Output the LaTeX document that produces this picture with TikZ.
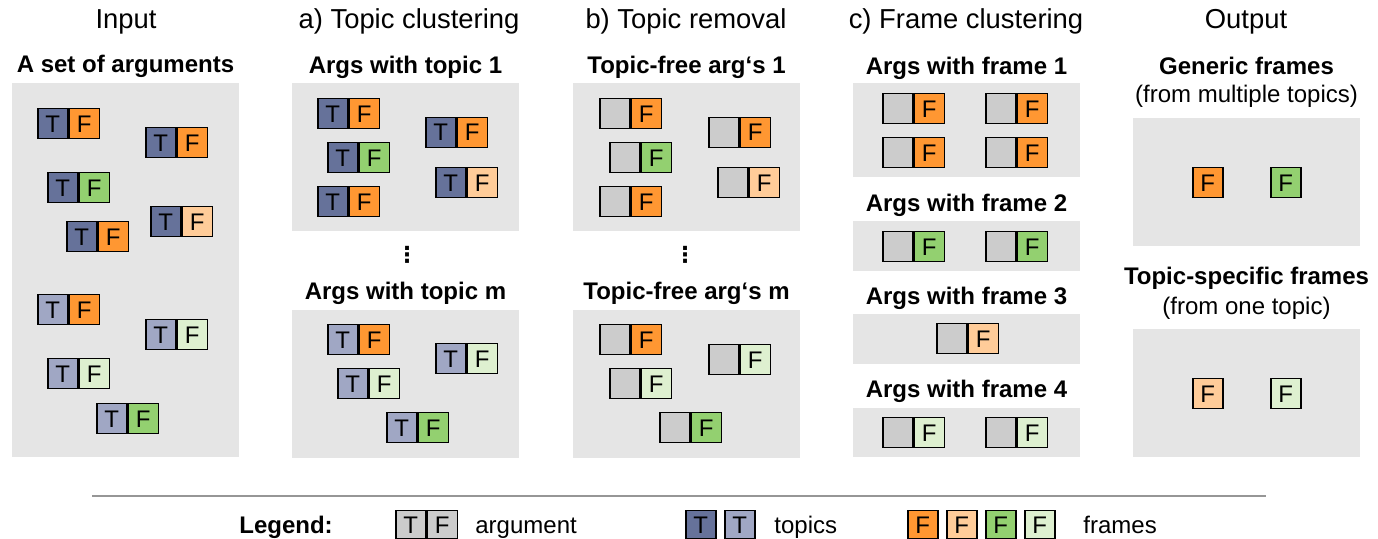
\documentclass[tikz,border=0pt]{standalone}
\usepackage{fontspec}
\setmainfont{Liberation Sans}
\newfontfamily\symfont{DejaVu Sans}
\definecolor{tdark}{RGB}{102,114,154}
\definecolor{tlight}{RGB}{160,167,196}
\definecolor{forange}{RGB}{255,151,50}
\definecolor{florange}{RGB}{255,204,153}
\definecolor{fgreen}{RGB}{147,208,112}
\definecolor{flgreen}{RGB}{222,240,208}
\definecolor{cgray}{RGB}{204,204,204}
\definecolor{panelgray}{RGB}{229,229,229}
\definecolor{rulegray}{RGB}{150,150,150}
% argument with topic cell T and frame cell F
\newcommand\tfarg[5]{%
  \node[cell,fill=#4] (#1t) at (#2,#3) {T};
  \node[cell,fill=#5] (#1f) at (#1t.north east) {F};}
% argument whose topic has been removed
\newcommand\xfarg[4]{%
  \node[cell,fill=cgray] (#1t) at (#2,#3) {};
  \node[cell,fill=#4] (#1f) at (#1t.north east) {F};}
\begin{document}
\begin{tikzpicture}[x=0.5pt,y=-0.5pt,
  cell/.style={draw=black, line width=0.75pt, minimum width=15pt, minimum height=15pt,
    inner sep=0pt, anchor=north west, font=\fontsize{12}{12}\selectfont},
  lcell/.style={cell, minimum height=14pt},
  panel/.style={fill=panelgray},
  heading/.style={anchor=base, inner sep=0pt, font=\fontsize{13.7}{14}\selectfont},
  subhead/.style={anchor=base, inner sep=0pt, font=\fontsize{12}{13}\selectfont\bfseries},
  note/.style={anchor=base, inner sep=0pt, font=\fontsize{12}{13}\selectfont},
  legtext/.style={anchor=base west, inner sep=0pt, font=\fontsize{12}{13}\selectfont},
  vdots/.style={inner sep=0pt, font=\fontsize{11}{12}\symfont\bfseries},
]
\useasboundingbox (0,0) rectangle (1378,539);

% ---------- column headings ----------
\node[heading] (h1) at (126,29) {Input};
\node[heading] (h2) at (409,29) {a) Topic clustering};
\node[heading] (h3) at (686,29) {b) Topic removal};
\node[heading] (h4) at (966,29) {c) Frame clustering};
\node[heading] (h5) at (1246,29) {Output};

% ---------- Input ----------
\node[subhead] (s1) at (125.5,73) {A set of arguments};
\fill[panel] (12,83) rectangle (239,457);
\tfarg{i1}{37}{108}{tdark}{forange}
\tfarg{i2}{145}{127}{tdark}{forange}
\tfarg{i3}{47}{172}{tdark}{fgreen}
\tfarg{i4}{66}{221}{tdark}{forange}
\tfarg{i5}{150}{206}{tdark}{florange}
\tfarg{i6}{37}{294}{tlight}{forange}
\tfarg{i7}{145}{319}{tlight}{flgreen}
\tfarg{i8}{47}{358}{tlight}{flgreen}
\tfarg{i9}{96}{403}{tlight}{fgreen}

% ---------- a) Topic clustering ----------
\node[subhead] (s2a) at (405.5,74) {Args with topic 1};
\fill[panel] (292,83) rectangle (519,231);
\tfarg{a1}{317}{98}{tdark}{forange}
\tfarg{a2}{425}{117}{tdark}{forange}
\tfarg{a3}{327}{142}{tdark}{fgreen}
\tfarg{a4}{435}{167}{tdark}{florange}
\tfarg{a5}{317}{186}{tdark}{forange}
\node[vdots] (d2) at (407,255) {⋮};
\node[subhead] (s2b) at (405.5,300) {Args with topic m};
\fill[panel] (292,310) rectangle (519,458);
\tfarg{b1}{327}{324}{tlight}{forange}
\tfarg{b2}{435}{343}{tlight}{flgreen}
\tfarg{b3}{337}{368}{tlight}{flgreen}
\tfarg{b4}{386}{412}{tlight}{fgreen}

% ---------- b) Topic removal ----------
\node[subhead] (s3a) at (686.5,74) {Topic-free arg‘s 1};
\fill[panel] (573,83) rectangle (800,231);
\xfarg{c1}{599}{98}{forange}
\xfarg{c2}{708}{117}{forange}
\xfarg{c3}{609}{142}{fgreen}
\xfarg{c4}{717}{167}{florange}
\xfarg{c5}{599}{186}{forange}
\node[vdots] (d3) at (685,255) {⋮};
\node[subhead] (s3b) at (686.5,300) {Topic-free arg‘s m};
\fill[panel] (573,310) rectangle (800,458);
\xfarg{e1}{599}{324}{forange}
\xfarg{e2}{708}{344}{flgreen}
\xfarg{e3}{609}{368}{flgreen}
\xfarg{e4}{659}{412}{fgreen}

% ---------- c) Frame clustering ----------
\node[subhead] (s4a) at (966.5,75) {Args with frame 1};
\fill[panel] (853,83) rectangle (1080,177);
\xfarg{g1}{882}{93}{forange}
\xfarg{g2}{985}{93}{forange}
\xfarg{g3}{882}{137}{forange}
\xfarg{g4}{985}{137}{forange}
\node[subhead] (s4b) at (966.5,212) {Args with frame 2};
\fill[panel] (853,221) rectangle (1080,271);
\xfarg{j1}{882}{231}{fgreen}
\xfarg{j2}{985}{231}{fgreen}
\node[subhead] (s4c) at (966.5,305) {Args with frame 3};
\fill[panel] (853,314) rectangle (1080,364);
\xfarg{k1}{936}{323}{florange}
\node[subhead] (s4d) at (966.5,398) {Args with frame 4};
\fill[panel] (853,408) rectangle (1080,457);
\xfarg{m1}{882}{417}{flgreen}
\xfarg{m2}{985}{417}{flgreen}

% ---------- Output ----------
\node[subhead] (s5a) at (1246.5,75) {Generic frames};
\node[note] (n5a) at (1246.5,103) {(from multiple topics)};
\fill[panel] (1133,118) rectangle (1360,246);
\node[cell,fill=forange] (o1) at (1192,167) {F};
\node[cell,fill=fgreen] (o2) at (1270,167) {F};
\node[subhead] (s5b) at (1246.5,285) {Topic-specific frames};
\node[note] (n5b) at (1246.5,315) {(from one topic)};
\fill[panel] (1133,329) rectangle (1360,457);
\node[cell,fill=florange] (o3) at (1192,378) {F};
\node[cell,fill=flgreen] (o4) at (1270,378) {F};

% ---------- legend ----------
\coordinate (rl) at (92,496);
\coordinate (rr) at (1266,496);
\draw[rulegray, line width=0.8pt] (rl) -- (rr);
\node[subhead] (lg) at (286,534) {Legend:};
\node[lcell,fill=cgray] (la) at (395,510) {T};
\node[lcell,fill=cgray] (lb) at (la.north east) {F};
\node[legtext] (lat) at (475,534) {argument};
\node[lcell,fill=tdark] (lt1) at (685,510) {T};
\node[lcell,fill=tlight] (lt2) at (724,510) {T};
\node[legtext] (ltt) at (774,534) {topics};
\node[lcell,fill=forange] (lf1) at (907,510) {F};
\node[lcell,fill=florange] (lf2) at (946,510) {F};
\node[lcell,fill=fgreen] (lf3) at (985,510) {F};
\node[lcell,fill=flgreen] (lf4) at (1024,510) {F};
\node[legtext] (lft) at (1083,534) {frames};
\end{tikzpicture}
\end{document}
